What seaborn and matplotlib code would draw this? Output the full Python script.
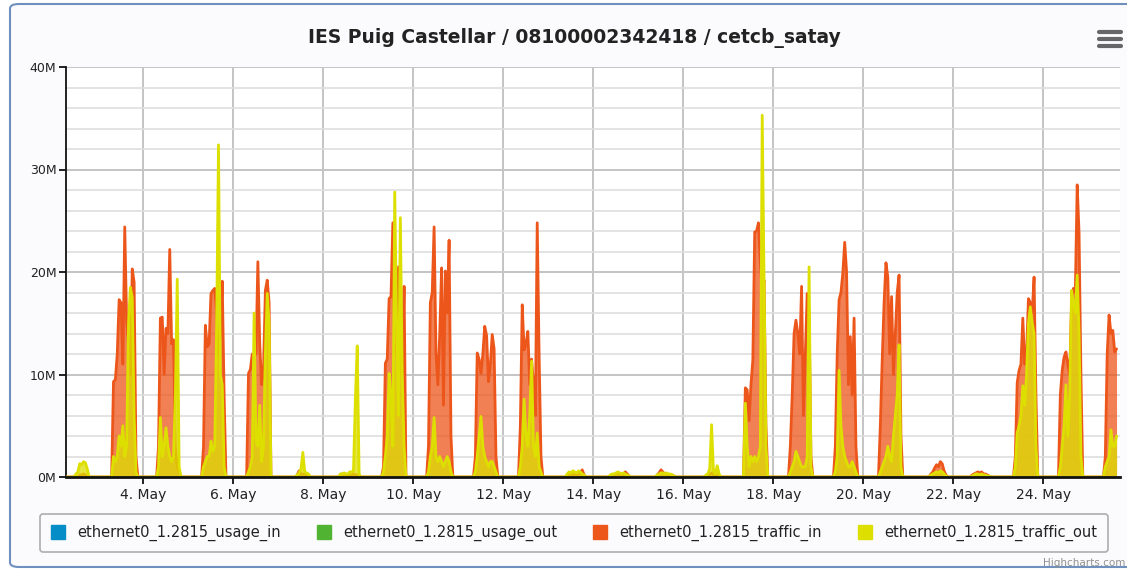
import pandas as pd
import matplotlib
matplotlib.use("Agg")
import matplotlib.pyplot as plt
import matplotlib.dates as mdates
from matplotlib.ticker import MultipleLocator, FuncFormatter
from matplotlib.patches import FancyBboxPatch
from matplotlib.lines import Line2D
import seaborn as sns

sns.set_theme(style="white")
plt.rcParams['font.family'] = ['DejaVu Sans']

title = "IES Puig Castellar / 08100002342418 / cetcb_satay"
series_names = ["ethernet0_1.2815_usage_in", "ethernet0_1.2815_usage_out",
                "ethernet0_1.2815_traffic_in", "ethernet0_1.2815_traffic_out"]
series_colors = ["#058DC7", "#50B432", "#ED561B", "#DDDF00"]

# hourly samples (values in M), one block per day of May, starting at first_hour
day_of_may = [2, 3, 4, 5, 6, 7, 8, 9, 10, 11, 12, 13, 14, 15, 16,
              17, 18, 19, 20, 21, 22, 23, 24, 25]
first_hour = [12, 8, 8, 8, 8, 10, 9, 8, 8, 8, 8, 10, 9, 10, 12,
              8, 8, 8, 8, 12, 10, 8, 8, 8]
traffic_in_days = [
    [0, 0, 0.2, 0.2, 0.3, 0.2, 0.1],
    [9.3, 9.5, 12, 17.3, 17, 11, 24.4, 15.3, 13, 10, 20.3, 19, 2],
    [3, 15.5, 15.6, 10, 14.5, 14, 22.2, 13, 13.4, 3, 1, 0.5],
    [3, 14.8, 12.7, 13, 17.9, 18.2, 18.4, 16, 12, 14, 19.1, 8],
    [10.1, 10.5, 12, 11.8, 12, 21, 13, 9, 10.5, 18.2, 19.2, 17],
    [0.2, 0.6, 0.3, 0.3, 0.2, 0.1, 0],
    [0.1, 0.3, 0.3, 0.2, 0.1, 0.2, 0.2, 0.3, 0.2, 0.2, 0.1],
    [1, 11.1, 11.5, 17.4, 17.6, 24.8, 12, 14, 20.5, 12, 10, 18.6],
    [3, 17, 18, 24.4, 12.1, 9, 14, 20.4, 7, 20.1, 16, 23.1, 4],
    [0, 2, 12.1, 11.5, 10.1, 12, 14.7, 13.8, 9.3, 11, 13.9, 12.5, 2],
    [0, 5, 16.8, 12.4, 13, 14.2, 9, 11.5, 9, 6, 24.8, 12, 2],
    [0.2, 0.3, 0.3, 0.2, 0.3, 0.2, 0.3, 0.4, 0.7, 0.2],
    [0.1, 0.2, 0.2, 0.3, 0.4, 0.2, 0.3, 0.2, 0.5, 0.3, 0.1],
    [0.2, 0.4, 0.7, 0.5, 0.3, 0.3, 0.2, 0.2, 0.2, 0.1],
    [0.1, 0.2, 0.3, 0.4, 0.2, 0.1, 0.2, 0.1],
    [0, 8.7, 8.5, 5.5, 9, 11.4, 23.9, 24, 24.8, 21, 18, 19.2, 5],
    [0, 3, 8, 14, 15.3, 14, 12, 18.6, 6, 12, 17.9, 16, 2],
    [0, 3, 12, 17.3, 18, 19.9, 22.9, 20, 9, 13.7, 8, 15.5, 3],
    [0, 5, 11.4, 17, 20.9, 19.5, 12, 17.6, 10, 14, 18, 19.7, 4],
    [0.3, 0.5, 0.9, 1.2, 1.0, 1.5, 1.3, 0.6, 0.2],
    [0.2, 0.3, 0.4, 0.5, 0.4, 0.5, 0.3, 0.3, 0.2, 0.1],
    [0, 2, 9.2, 10.4, 11, 15.5, 11, 12, 17.4, 17, 16, 19.5, 8],
    [0, 8, 10.4, 11.7, 12.2, 11, 10, 17, 18.4, 18, 28.5, 23.8, 10],
    [0, 2, 12, 15.8, 14, 14.3, 12.2, 12.5],
]
traffic_out_days = [
    [0.3, 0.5, 1.3, 1.2, 1.5, 1.4, 0.8],
    [2, 1.5, 2, 4, 3, 5, 2, 3, 15, 18.5, 17.5, 6, 0.5],
    [1, 5.8, 2, 3, 4.8, 3, 2, 1.5, 2, 8, 19.3, 1],
    [1, 1.5, 2, 2, 3.5, 2.5, 3, 14.5, 32.4, 10, 9, 1],
    [0.5, 1, 2, 16, 3.5, 3, 7, 1.5, 3, 12, 17.9, 15],
    [0.2, 0.4, 0.8, 2.4, 0.5, 0.4, 0.3],
    [0.3, 0.3, 0.4, 0.3, 0.3, 0.5, 0.5, 0.6, 7.5, 12.8, 0.3],
    [0.5, 2, 4, 10.1, 8, 3, 27.8, 15, 6, 25.3, 10, 3],
    [0.5, 2, 3, 5.8, 2, 1.5, 2, 1.5, 1, 1.5, 2, 1.5, 0.5],
    [0, 0.5, 2, 4, 5.9, 3, 2, 1.5, 1, 1.5, 1.5, 1, 0.5],
    [0, 1, 3, 7.6, 4, 3, 6, 11.3, 3, 2, 4.3, 1, 0.5],
    [0.3, 0.5, 0.4, 0.6, 0.5, 0.4, 0.6, 0.5, 0.3, 0.2],
    [0.2, 0.3, 0.3, 0.4, 0.5, 0.4, 0.3, 0.4, 0.3, 0.2, 0.1],
    [0.2, 0.3, 0.4, 0.4, 0.3, 0.4, 0.3, 0.3, 0.2, 0.1],
    [0.2, 0.3, 0.8, 5.1, 0.6, 0.3, 1.1, 0.3],
    [0, 7.2, 3, 1, 2, 1.5, 2, 1.5, 2, 3, 35.3, 19.2, 3],
    [0, 0.5, 1, 1.5, 2.5, 2, 1.5, 1, 1, 1, 2, 20.5, 1],
    [0, 0.5, 2, 10.4, 5, 3, 2, 1.5, 1, 1, 1.5, 1, 0.5],
    [0, 0.5, 1, 1.5, 2, 3, 2, 1.5, 4, 6, 8, 12.9, 1],
    [0.2, 0.3, 0.4, 0.5, 0.4, 0.6, 0.5, 0.3, 0.1],
    [0.1, 0.2, 0.3, 0.3, 0.2, 0.3, 0.2, 0.2, 0.1, 0.1],
    [0, 1, 4.3, 5, 6, 8.9, 7, 10, 15, 16.6, 15, 14, 3],
    [0, 1, 3, 5, 9, 4, 8, 18.2, 17, 16, 19.7, 14, 2],
    [0, 1, 1.5, 2, 4.6, 3, 3, 4],
]

# build the hourly frame
index = pd.date_range("2019-05-02 00:00", "2019-05-25 15:00", freq="h")
df = pd.DataFrame({"traffic_in": 0.0, "traffic_out": 0.0}, index=index)
for day, h0, vin, vout in zip(day_of_may, first_hour, traffic_in_days, traffic_out_days):
    t_in = pd.date_range(pd.Timestamp(2019, 5, day, h0), periods=len(vin), freq="h")
    t_out = pd.date_range(pd.Timestamp(2019, 5, day, h0), periods=len(vout), freq="h")
    df.loc[t_in, "traffic_in"] = vin
    df.loc[t_out, "traffic_out"] = vout
df.index.name = "time"
df = df.reset_index()

W, H = 1127, 571
fig = plt.figure(figsize=(W / 100, H / 100), dpi=100)
fig.patch.set_facecolor("white")

# outer chart container
fig.add_artist(FancyBboxPatch((10 / W, 4 / H), 1.1, 563 / H,
                              boxstyle="round,pad=0,rounding_size=0.008",
                              transform=fig.transFigure, facecolor="#fbfbfd",
                              edgecolor="#6f8fbf", linewidth=1.5, zorder=-5))

ax = fig.add_axes([66 / W, 1 - 477 / H, (1120 - 66) / W, (477 - 67) / H])
ax.set_zorder(2)
ax.set_facecolor("white")

red, yellow = series_colors[2], series_colors[3]
ax.fill_between(df["time"], df["traffic_in"], color=red, alpha=0.75, linewidth=0, zorder=2)
sns.lineplot(data=df, x="time", y="traffic_in", ax=ax, color=red, linewidth=2,
             estimator=None, zorder=3)
ax.fill_between(df["time"], df["traffic_out"], color=yellow, alpha=0.75, linewidth=0, zorder=4)
sns.lineplot(data=df, x="time", y="traffic_out", ax=ax, color=yellow, linewidth=2,
             estimator=None, zorder=5)

ax.set_xlim(pd.Timestamp("2019-05-02 06:40"), pd.Timestamp("2019-05-25 16:50"))
ax.set_ylim(0, 40)
ax.set_xlabel("")
ax.set_ylabel("")

ax.yaxis.set_major_locator(MultipleLocator(10))
ax.yaxis.set_minor_locator(MultipleLocator(2))
ax.yaxis.set_major_formatter(FuncFormatter(lambda v, p: f"{v:.0f}M"))
ax.xaxis.set_major_locator(mdates.DayLocator(bymonthday=range(4, 26, 2)))
ax.xaxis.set_major_formatter(FuncFormatter(
    lambda v, p: f"{mdates.num2date(v).day}. {mdates.num2date(v):%b}"))

ax.set_axisbelow(True)
ax.grid(which="major", axis="y", color="#c4c4c4", linewidth=1.4)
ax.grid(which="minor", axis="y", color="#dedede", linewidth=1.2)
ax.grid(which="major", axis="x", color="#c4c4c4", linewidth=1.4)

for s in ["top", "right"]:
    ax.spines[s].set_visible(False)
ax.spines["left"].set_color("#111111")
ax.spines["left"].set_linewidth(1.3)
ax.spines["bottom"].set_color("#111111")
ax.spines["bottom"].set_linewidth(2)
ax.spines["bottom"].set_zorder(6)

ax.tick_params(axis="x", which="major", direction="out", length=5, width=1.3,
               color="#111111", labelsize=10, labelcolor="#222222", pad=3, bottom=True)
ax.tick_params(axis="y", which="major", direction="out", length=5, width=1.3,
               color="#111111", labelsize=9, labelcolor="#222222", pad=2, left=True)
ax.tick_params(axis="y", which="minor", length=0)

fig.text(574 / W, 1 - 38 / H, title, ha="center", va="center",
         fontsize=13.5, fontweight="bold", color="#222222")

# menu icon
for yy in (32, 39, 46):
    fig.add_artist(Line2D([1099 / W, 1121 / W], [1 - yy / H, 1 - yy / H],
                          transform=fig.transFigure, color="#666666", linewidth=3,
                          solid_capstyle="round"))

handles = [Line2D([], [], marker="s", linestyle="", markersize=10,
                  markerfacecolor=c, markeredgecolor=c) for c in series_colors]
leg = fig.legend(handles, series_names, loc="lower left",
                 bbox_to_anchor=(40 / W, 1 - 552 / H, (1108 - 40) / W, 38 / H),
                 mode="expand", ncol=4, frameon=True, fancybox=True,
                 fontsize=10.5, handletextpad=0.8, borderaxespad=0,
                 borderpad=0.75, handlelength=1.0)
frame = leg.get_frame()
frame.set_edgecolor("#9a9a9a")
frame.set_linewidth(1.2)
frame.set_facecolor("#fbfbfd")
for t in leg.get_texts():
    t.set_color("#222222")

fig.text(1125 / W, 1 - 563 / H, "Highcharts.com", ha="right", va="center",
         fontsize=7.5, color="#909090")

fig.savefig("out.png", dpi=100)
